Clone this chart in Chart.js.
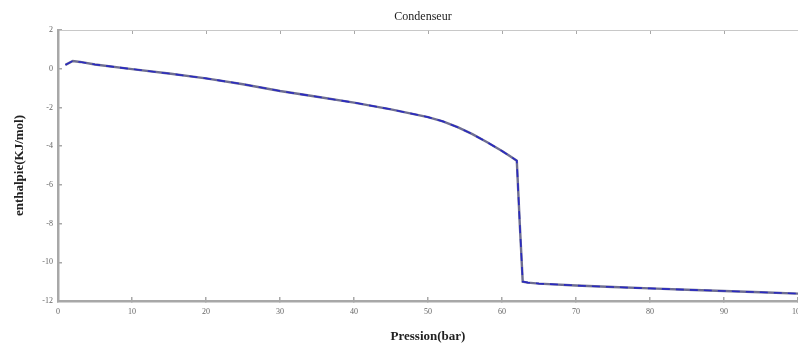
<!DOCTYPE html>
<html>
<head>
<meta charset="utf-8">
<script src="https://cdn.jsdelivr.net/npm/chart.js@4"></script>
<style>
  html, body { margin: 0; padding: 0; background: #fff; }
  #wrap { width: 798px; height: 347px; position: relative; }
</style>
</head>
<body>
<div id="wrap"><canvas id="chart"></canvas></div>
<script>
// values
const pression = [1, 2, 3, 5, 10, 15, 20, 25, 30, 35, 40, 45, 50, 52, 54, 56, 58, 60, 61, 62, 62.4, 62.8, 63.5, 65, 70, 75, 80, 85, 90, 95, 100];
const enthalpie = [0.2, 0.4, 0.35, 0.22, -0.02, -0.25, -0.5, -0.8, -1.15, -1.45, -1.75, -2.1, -2.5, -2.72, -3.02, -3.38, -3.8, -4.25, -4.5, -4.75, -8.0, -11.0, -11.05, -11.1, -11.2, -11.28, -11.35, -11.42, -11.48, -11.55, -11.62];
const xTicks = [0, 10, 20, 30, 40, 50, 60, 70, 80, 90, 100];
const yTicks = [-12, -10, -8, -6, -4, -2, 0, 2];

const points = pression.map((p, i) => ({ x: p, y: enthalpie[i] }));

const serif = "'Liberation Serif', 'DejaVu Serif', serif";
const axisGrey = '#a8a8a8';

// chart title drawn over the plot centre
const titlePlugin = {
  id: 'condTitle',
  afterDraw(chart) {
    const ctx = chart.ctx;
    ctx.save();
    ctx.font = '12px ' + serif;
    ctx.fillStyle = '#222';
    ctx.textAlign = 'center';
    ctx.textBaseline = 'middle';
    ctx.fillText('Condenseur', (chart.chartArea.left + chart.chartArea.right) / 2 - 5, 17);
    ctx.restore();
  }
};

new Chart(document.getElementById('chart'), {
  type: 'line',
  data: {
    datasets: [
      // first dataset is drawn on top
      {
        data: points,
        borderColor: '#2a2ac0',
        borderWidth: 1.6,
        borderDash: [8, 6],
        pointRadius: 0,
        tension: 0
      },
      {
        data: points,
        borderColor: '#6e6e92',
        borderWidth: 2.4,
        pointRadius: 0,
        tension: 0
      }
    ]
  },
  options: {
    responsive: true,
    maintainAspectRatio: false,
    animation: false,
    layout: { padding: { top: 30, right: 0, bottom: 0, left: 0 } },
    plugins: {
      legend: { display: false },
      tooltip: { enabled: false }
    },
    scales: {
      x: {
        type: 'linear',
        position: 'bottom',
        min: 0,
        max: 100,
        afterBuildTicks: s => { s.ticks = xTicks.map(v => ({ value: v })); },
        afterFit: s => { s.height = 46; s.paddingRight = 0; s.paddingLeft = 0; },
        grid: { drawOnChartArea: false, drawTicks: true, tickLength: -4, color: axisGrey, lineWidth: 1.5 },
        border: { color: axisGrey, width: 2.5 },
        ticks: { font: { family: serif, size: 8 }, color: '#666', padding: 10, maxRotation: 0 },
        title: {
          display: true,
          text: 'Pression(bar)',
          font: { family: serif, size: 13, weight: 'bold' },
          color: '#222',
          padding: { top: 0, bottom: 3 }
        }
      },
      xTop: {
        type: 'linear',
        position: 'top',
        min: 0,
        max: 100,
        afterBuildTicks: s => { s.ticks = xTicks.map(v => ({ value: v })); },
        afterFit: s => { s.height = 0; s.paddingRight = 0; s.paddingLeft = 0; },
        grid: { drawOnChartArea: false, drawTicks: true, tickLength: -4, color: axisGrey, lineWidth: 1 },
        border: { color: '#c8c8c8', width: 1 },
        ticks: { display: false }
      },
      y: {
        type: 'linear',
        min: -12,
        max: 2,
        afterBuildTicks: s => { s.ticks = yTicks.map(v => ({ value: v })); },
        afterFit: s => { s.width = 58; },
        grid: { drawOnChartArea: false, drawTicks: true, tickLength: -4, color: axisGrey, lineWidth: 1.5 },
        border: { color: axisGrey, width: 2.5 },
        ticks: { font: { family: serif, size: 8 }, color: '#666', padding: 9 },
        title: {
          display: true,
          text: 'enthalpie(KJ/mol)',
          font: { family: serif, size: 13, weight: 'bold' },
          color: '#222',
          padding: { top: 12, bottom: 0 }
        }
      }
    }
  },
  plugins: [titlePlugin]
});
</script>
</body>
</html>
